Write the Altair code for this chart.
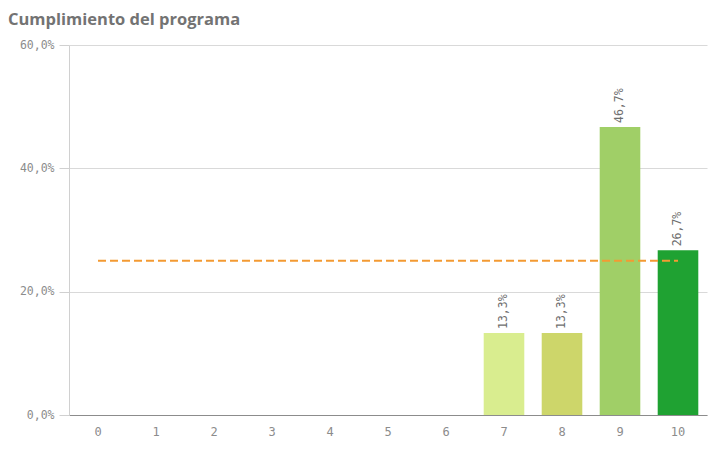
import altair as alt
import pandas as pd

categories = ["0", "1", "2", "3", "4", "5", "6", "7", "8", "9", "10"]
values = [0, 0, 0, 0, 0, 0, 0, 0.133, 0.133, 0.467, 0.267]
colors = ["#d9ed8f", "#d9ed8f", "#d9ed8f", "#d9ed8f", "#d9ed8f", "#d9ed8f", "#d9ed8f",
          "#d9ed8f", "#cdd66a", "#a0cf67", "#1fa232"]
bar_labels = ["", "", "", "", "", "", "", "13,3%", "13,3%", "46,7%", "26,7%"]
reference_value = 0.25

df = pd.DataFrame({"cat": categories, "val": values, "color": colors, "label": bar_labels})
ref_df = pd.DataFrame({"start": [categories[0]], "end": [categories[-1]], "ref": [reference_value]})

FONT = "DejaVu Sans Mono"

x_scale = alt.Scale(domain=categories, paddingInner=0.3, paddingOuter=0.15)

x_enc = alt.X("cat:O", scale=x_scale, sort=None,
              axis=alt.Axis(title=None, labelAngle=0, ticks=False, labelPadding=11,
                            domainColor="#8c8c8c", labelColor="#8c8c8c",
                            labelFont=FONT, labelFontSize=12, grid=False))
y_enc = alt.Y("val:Q", scale=alt.Scale(domain=[0, 0.6]),
              axis=alt.Axis(title=None, values=[0, 0.2, 0.4, 0.6],
                            labelExpr="replace(format(datum.value, '.1%'), '.', ',')",
                            tickSize=10, tickColor="#d0d0d0", domainColor="#d0d0d0",
                            gridColor="#d9d9d9", labelColor="#8c8c8c",
                            labelFont=FONT, labelFontSize=11.5, labelPadding=5))

bars = alt.Chart(df).mark_bar().encode(
    x=x_enc, y=y_enc,
    color=alt.Color("color:N", scale=None),
)

texts = alt.Chart(df).mark_text(angle=270, align="left", baseline="middle", dx=4,
                                font=FONT, fontSize=11.5, color="#6e6e6e").encode(
    x=alt.X("cat:O", scale=x_scale, sort=None), y=alt.Y("val:Q"), text="label:N"
)

rule = alt.Chart(ref_df).mark_rule(color="#f39a33", strokeWidth=2, strokeDash=[8, 4]).encode(
    x=alt.X("start:O", scale=x_scale, sort=None), x2="end:O", y=alt.Y("ref:Q")
)

chart = alt.layer(bars, texts, rule).properties(
    width=638, height=370,
    title=alt.TitleParams("Cumplimiento del programa", anchor="start", frame="group",
                          dx=-61, font="Open Sans", fontSize=16.5, fontWeight="bold",
                          color="#737373", offset=11),
    autosize=alt.AutoSizeParams(type="none"),
    padding={"left": 61, "top": 37, "right": 4, "bottom": 30},
).configure_view(stroke=None)

chart.save("out.html", embed_options={"renderer": "svg", "actions": False})
